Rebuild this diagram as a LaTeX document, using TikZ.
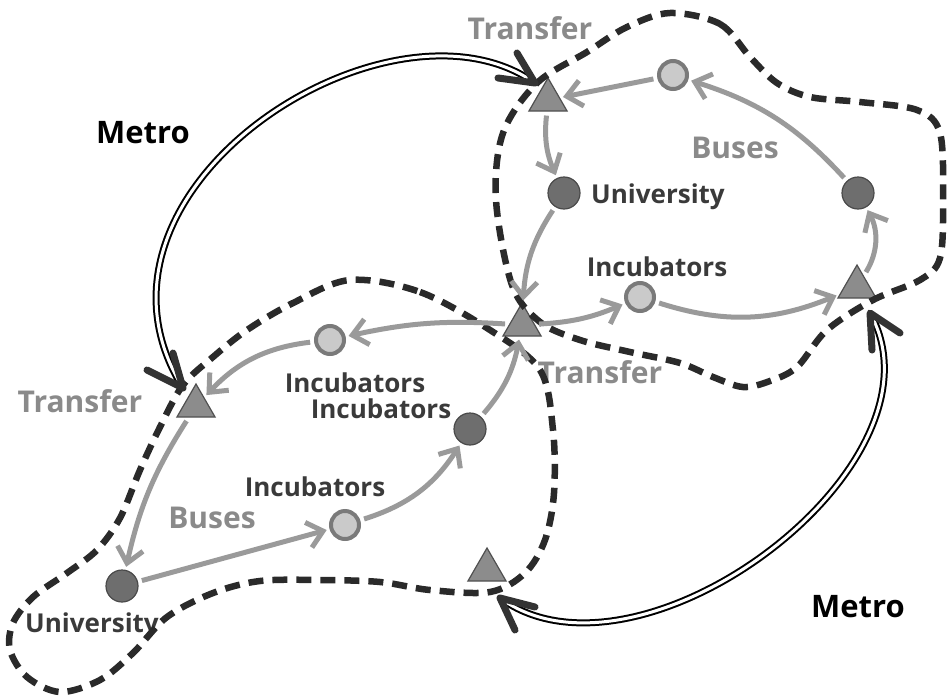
\documentclass[tikz,border=0pt]{standalone}
\usepackage{fontspec}
\setmainfont{Open Sans}
\usetikzlibrary{arrows.meta,shapes.geometric,shadows}
\definecolor{busgray}{HTML}{9A9A9A}
\definecolor{labelgray}{HTML}{8A8A8A}
\definecolor{darktext}{HTML}{3A3A3A}
\definecolor{dashcol}{HTML}{2A2A2A}
\definecolor{darkdot}{HTML}{6E6E6E}
\definecolor{dotline}{HTML}{4A4A4A}
\definecolor{lightdot}{HTML}{CACACA}
\definecolor{ringcol}{HTML}{7A7A7A}
\definecolor{tricol}{HTML}{8C8C8C}
\definecolor{tribord}{HTML}{505050}
\definecolor{metrotip}{HTML}{333333}
\begin{document}
\begin{tikzpicture}[x=1pt,y=1pt,
  hub/.style={circle, draw=dotline, fill=darkdot, line width=1.2pt, minimum size=32pt, inner sep=0pt},
  inc/.style={circle, draw=ringcol, fill=lightdot, line width=4pt, minimum size=28pt, inner sep=0pt,
    drop shadow={shadow xshift=1.5pt, shadow yshift=-1.5pt, fill=black!30}},
  stop/.style={regular polygon, regular polygon sides=3, draw=tribord, fill=tricol, line width=1.2pt,
    minimum size=44pt, inner sep=0pt},
  place/.style={font=\bfseries\fontsize{26}{30}\selectfont, text=darktext, inner sep=0pt},
  transit/.style={font=\bfseries\fontsize{30}{34}\selectfont, text=labelgray, inner sep=0pt},
  metrolabel/.style={font=\bfseries\fontsize{31}{35}\selectfont, text=black, inner sep=0pt},
  bus/.style={draw=busgray, line width=5pt, -{Straight Barb[length=15pt,width=26pt]},
    shorten <=4pt, shorten >=3pt},
  metro/.style={draw=black, line width=2pt, double=white, double distance=3pt},
  barb/.style={draw=metrotip, line width=7pt, line cap=round, line join=round},
  zone/.style={draw=dashcol, line width=6.5pt, dash pattern=on 15pt off 9pt}]
  \useasboundingbox (0,0) rectangle (949,-696);

  \node[stop] (T1) at (548,-100) {};
  \node[inc] (C1) at (673,-75) {};
  \node[hub] (U1) at (564,-193) {};
  \node[hub] (R1) at (858,-193) {};
  \node[stop] (T2) at (857,-287) {};
  \node[inc] (C2) at (640,-297) {};
  \node[stop] (T3) at (522,-325) {};
  \node[inc] (C3) at (330,-340) {};
  \node[stop] (T4) at (196,-406) {};
  \node[hub] (D2) at (470,-429) {};
  \node[inc] (C4) at (345,-525) {};
  \node[hub] (U2) at (122,-586) {};
  \node[stop] (T5) at (487,-570) {};

  \node[transit] (tr1) at (530,-28) {Transfer};
  \node[place, anchor=west] (un1) at (591,-197) {University};
  \node[transit] (bu1) at (735,-148) {Buses};
  \node[place] (in1) at (657,-267) {Incubators};
  \node[transit] (tr2) at (600,-372) {Transfer};
  \node[transit] (tr3) at (80,-401) {Transfer};
  \node[place] (in2) at (355,-383) {Incubators};
  \node[place] (in3) at (381,-409) {Incubators};
  \node[place] (in4) at (315,-487) {Incubators};
  \node[transit] (bu2) at (212,-518) {Buses};
  \node[place] (un2) at (92,-626) {University};
  \node[metrolabel] (me1) at (143,-133) {Metro};
  \node[metrolabel] (me2) at (858,-607) {Metro};

  \draw[zone] plot[smooth cycle, tension=0.55] coordinates {
    (670,-13) (720,-24) (750,-57) (777,-83) (810,-97) (860,-102) (917,-110) (940,-133)
    (943,-200) (940,-258) (920,-280) (873,-300) (827,-330) (797,-367) (770,-381)
    (743,-387) (713,-377) (680,-363) (630,-352) (580,-340) (540,-322) (512,-285)
    (496,-200) (503,-133) (537,-83) (587,-52) (627,-27)};
  \draw[zone] plot[smooth cycle, tension=0.55] coordinates {
    (350,-280) (420,-292) (490,-330) (540,-370) (553,-430) (554,-493) (545,-540)
    (525,-573) (490,-592) (430,-590) (380,-582) (320,-580) (260,-581) (213,-593)
    (167,-617) (133,-653) (100,-680) (60,-692) (27,-677) (10,-650) (13,-623)
    (33,-597) (67,-573) (97,-550) (120,-518) (140,-470) (160,-427) (183,-385)
    (213,-357) (247,-330) (293,-303)};

  \draw[bus] (C1) -- (T1);
  \draw[bus] (R1) to[bend right=15] (C1);
  \draw[bus] (T1) to[bend right=15] (U1);
  \draw[bus] (U1) to[bend right=15] (T3);
  \draw[bus] (T3) to[bend right=10] (C2);
  \draw[bus] (C2) to[bend right=20] (T2);
  \draw[bus] (T2) to[bend right=30] (R1);
  \draw[bus] (T3) to[bend right=8] (C3);
  \draw[bus] (C3) to[bend right=20] (T4);
  \draw[bus] (T4) to[bend right=10] (U2);
  \draw[bus] (U2) -- (C4);
  \draw[bus] (C4) to[bend right=20] (D2);
  \draw[bus] (D2) to[bend right=15] (T3);

  \coordinate (t1m) at ([shift={(-13,17)}]T1.center);
  \coordinate (t4m) at ([shift={(-13,18)}]T4.center);
  \coordinate (t2m) at ([shift={(13,-26)}]T2.center);
  \coordinate (t5m) at ([shift={(13,-28)}]T5.center);
  \draw[metro] (t4m) .. controls (60,-190) and (390,20) .. (t1m);
  \draw[metro] (t2m) .. controls (955,-465) and (640,-700) .. (t5m);
  \draw[barb] ([shift={(-18,30)}]t1m) -- (t1m) -- ([shift={(-37,5)}]t1m);
  \draw[barb] ([shift={(-36,18)}]t4m) -- (t4m) -- ([shift={(-10,35)}]t4m);
  \draw[barb] ([shift={(30,-20)}]t2m) -- (t2m) -- ([shift={(2,-37)}]t2m);
  \draw[barb] ([shift={(35,-9)}]t5m) -- (t5m) -- ([shift={(15,-32)}]t5m);
\end{tikzpicture}
\end{document}
